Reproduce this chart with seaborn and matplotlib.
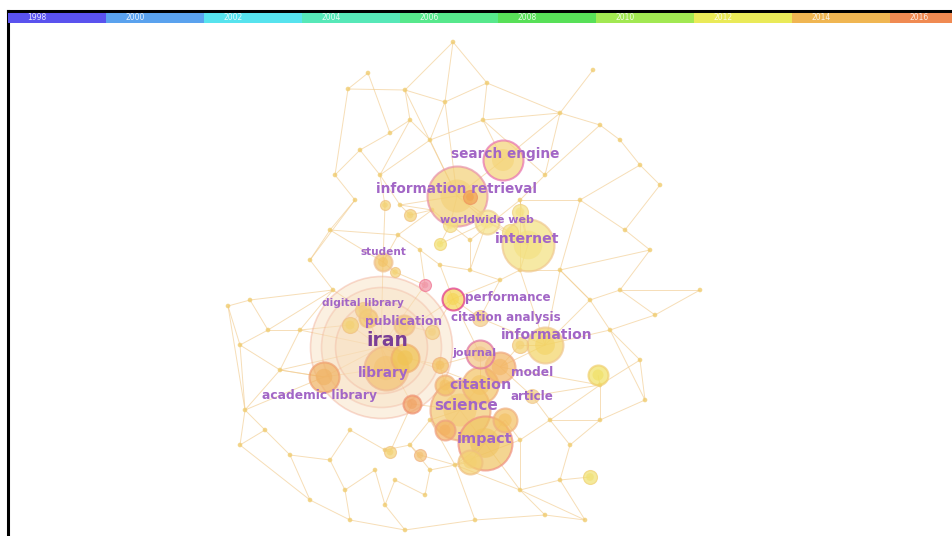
import numpy as np
import pandas as pd
import matplotlib
matplotlib.use("Agg")
import matplotlib.pyplot as plt
from matplotlib.collections import LineCollection
import seaborn as sns

# ---------------- data ----------------
years = ["1998", "2000", "2002", "2004", "2006", "2008", "2010", "2012", "2014", "2016"]
year_colors = ["#5a52ee", "#5aa2ee", "#57e3ee", "#57e8b8", "#57e88c",
               "#58e058", "#a2e852", "#eaea58", "#f0b652", "#f08a52"]

# background (unlabelled) nodes
bg_x = [453, 368, 348, 405, 487, 593, 560, 445, 483, 390, 410, 430, 360, 335, 380, 400, 355, 330, 310, 333,
        250, 228, 268, 300, 240, 280, 245, 265, 240, 290, 330, 345, 375, 310, 350, 385, 405, 425, 455, 430,
        475, 520, 545, 570, 560, 585, 600, 645, 640, 610, 655, 700, 620, 590, 650, 625, 660, 640, 620, 600,
        580, 560, 520, 500, 470, 440, 420, 398, 432, 520, 545, 470, 600, 550, 520, 430, 410, 385, 350, 395]
bg_y = [42, 73, 89, 90, 83, 70, 113, 102, 120, 133, 120, 140, 150, 175, 175, 205, 200, 230, 260, 290,
        300, 306, 330, 330, 345, 370, 410, 430, 445, 455, 460, 490, 470, 500, 520, 505, 530, 495, 465, 470,
        520, 490, 515, 445, 480, 520, 420, 400, 360, 330, 315, 290, 290, 300, 250, 230, 185, 165, 140, 125,
        200, 270, 270, 280, 270, 265, 250, 235, 210, 200, 175, 240, 385, 420, 440, 420, 445, 450, 430, 480]

# keyword nodes (named ones first, then unnamed cluster members)
kw_names = ["iran", "library", "search engine", "information retrieval", "worldwide web", "internet",
            "student", "performance", "digital library", "publication", "citation analysis", "information",
            "journal", "model", "citation", "academic library", "article", "science", "impact",
            "", "", "", "", "", "", "",
            "", "", "", "", "", "", "", "", "", "", "", "", "", "", "", "", ""]
kw_x = [381, 386, 503, 457, 487, 528, 383, 453, 363, 404, 480, 545, 480, 500, 480, 324, 532, 460, 485,
        412, 598, 590, 405, 425, 470, 440,
        350, 368, 432, 440, 445, 505, 470, 445, 520, 510, 450, 410, 385, 395, 420, 390, 520]
kw_y = [347, 368, 160, 196, 222, 245, 262, 299, 310, 325, 318, 345, 354, 367, 385, 377, 396, 410, 443,
        404, 375, 477, 358, 285, 197, 244,
        325, 318, 332, 365, 385, 420, 462, 430, 345, 232, 225, 215, 205, 272, 455, 452, 212]
kw_radius = [71, 22, 20, 30, 12, 26, 9, 11, 8, 10, 8, 18, 14, 15, 18, 15, 7, 30, 27,
             9, 10, 7, 14, 6, 7, 6,
             8, 9, 7, 8, 10, 12, 12, 10, 8, 8, 7, 6, 5, 5, 6, 6, 8]
kw_fill = ["#f7dcb8", "#f3c272", "#f5d476", "#f3d076", "#f6e288", "#f3e07e", "#f2c262", "#f5d452",
           "#f2cc7a", "#f3c878", "#f3cc80", "#f3d464", "#f3c484", "#f3b664", "#f3c464", "#f0b262",
           "#f3cc80", "#f3ca72", "#f0c462", "#f0a262", "#f0e062", "#f0e070", "#f0c452", "#f092a4",
           "#f0a050", "#f2e070",
           "#f3d070", "#f3c870", "#f3d080", "#f3c060", "#f3c060", "#f3c060", "#f3d070", "#f3b060",
           "#f3d070", "#f5e080", "#f5e080", "#f3d070", "#f3d070", "#f3d070", "#f3c070", "#f3d070",
           "#f5e080"]
kw_ring = ["#f0a890", "#f0b890", "#e870b0", "#e890a8", "#f0d090", "#f0c890", "#f0c090", "#e0308a",
           "#f0c090", "#f0c090", "#f0c090", "#f0c890", "#e070a0", "#f0a880", "#f0b080", "#f0a070",
           "#f0c890", "#f0a880", "#f09080", "#f09070", "#f0d070", "#f0d070", "#f0b070", "#f07090",
           "#f09060", "#f0d070",
           "#f0c080", "#f0c080", "#f0c080", "#f0b080", "#f0b080", "#f0b080", "#f0c080", "#f0a080",
           "#f0c080", "#f0d080", "#f0d080", "#f0c080", "#f0c080", "#f0c080", "#f0b080", "#f0c080",
           "#f0d080"]

# label text positions and sizes
lab_text = ["iran", "library", "search engine", "information retrieval", "worldwide web", "internet",
            "student", "performance", "digital library", "publication", "citation analysis", "information",
            "journal", "model", "citation", "academic library", "article", "science", "impact"]
lab_x = [387, 383, 505, 457, 487, 527, 383, 508, 363, 404, 506, 547, 474, 532, 480, 320, 532, 466, 485]
lab_y = [341, 373, 154, 189, 220, 239, 252, 297, 303, 322, 317, 335, 353, 373, 385, 395, 396, 406, 439]
lab_size = [13.5, 9.8, 9.8, 9.8, 8.0, 10.2, 7.6, 8.6, 7.7, 8.8, 8.6, 10.0, 8.0, 8.8, 10.4, 8.8, 8.6, 11.0, 10.4]

edges = [(0, 7), (0, 4), (0, 3), (1, 2), (1, 9), (2, 3), (2, 13), (3, 10), (3, 7), (4, 8), (4, 7), (5, 6),
         (6, 8), (6, 70), (7, 11), (8, 11), (9, 10), (9, 12), (10, 11), (12, 13), (12, 14), (13, 16),
         (14, 15), (14, 11), (15, 68), (16, 17), (17, 18), (17, 67), (18, 19), (19, 20), (19, 23), (20, 21),
         (20, 22), (21, 24), (22, 23), (22, 24), (23, 25), (24, 25), (24, 26), (25, 26), (26, 27), (26, 28),
         (27, 28), (27, 29), (28, 33), (29, 30), (29, 33), (30, 31), (30, 78), (31, 34), (31, 32), (32, 35),
         (33, 34), (34, 36), (35, 36), (35, 79), (36, 40), (37, 39), (37, 79), (38, 39), (38, 40), (38, 41),
         (40, 42), (41, 42), (41, 44), (42, 45), (43, 44), (43, 46), (44, 45), (46, 47), (46, 72), (47, 48),
         (48, 49), (48, 72), (49, 50), (49, 53), (50, 51), (51, 52), (52, 53), (52, 54), (53, 61), (54, 55),
         (55, 56), (55, 60), (56, 57), (57, 58), (58, 59), (59, 6), (59, 70), (60, 69), (60, 61), (61, 62),
         (62, 63), (63, 64), (64, 65), (65, 66), (66, 67), (67, 68), (68, 71), (69, 70), (69, 71), (71, 64),
         (73, 74), (73, 46), (74, 41), (74, 38), (75, 76), (76, 77), (77, 78), (76, 39), (75, 38), (43, 73),
         (72, 73), (62, 69), (57, 60), (50, 52), (45, 41), (21, 26),
         (80, 88), (80, 89), (80, 81), (80, 95), (80, 86), (80, 23), (80, 25), (80, 99), (80, 94), (80, 87),
         (80, 103), (81, 102), (81, 95), (83, 82), (83, 84), (83, 85), (83, 11), (83, 15), (84, 85), (85, 69),
         (85, 62), (86, 67), (86, 17), (87, 90), (87, 92), (87, 63), (90, 91), (91, 93), (92, 93), (92, 94),
         (93, 96), (94, 97), (97, 98), (97, 99), (98, 38), (98, 41), (96, 72), (91, 49), (100, 72), (101, 44),
         (82, 6), (82, 8), (83, 104), (84, 105), (97, 75), (88, 19), (95, 25), (95, 26),
         (80, 106), (80, 107), (106, 88), (107, 89), (108, 87), (108, 89), (109, 92), (109, 110), (110, 97),
         (111, 98), (111, 74), (112, 98), (113, 97), (113, 75), (114, 91), (114, 93), (115, 85), (115, 84),
         (116, 83), (116, 105), (117, 15), (117, 68), (118, 14), (118, 86), (119, 86), (119, 103), (120, 38),
         (120, 76), (121, 77), (121, 99), (122, 69), (122, 85), (102, 109), (110, 94), (112, 38), (3, 83),
         (7, 83), (10, 14), (16, 18), (19, 22), (23, 106), (25, 95), (66, 103), (65, 87), (64, 84), (63, 90),
         (62, 91), (61, 53), (61, 91), (53, 91), (72, 93), (73, 96), (47, 49), (54, 61), (8, 70), (4, 6)]

# ---------------- figure ----------------
sns.set_theme(style="white")
plt.rcParams["font.family"] = ["DejaVu Sans"]

W, H = 953, 536
fig = plt.figure(figsize=(W / 100, H / 100), dpi=100)
fig.patch.set_facecolor("white")

ax = fig.add_axes([8 / W, 0, (W - 8) / W, (H - 11) / H])
ax.set_xlim(8, W)
ax.set_ylim(H, 11)
ax.set_xticks([])
ax.set_yticks([])
for s in ["right", "bottom"]:
    ax.spines[s].set_visible(False)
for s in ["left", "top"]:
    ax.spines[s].set_color("black")
    ax.spines[s].set_linewidth(2.2)
ax.set_facecolor("white")

all_x = np.array(bg_x + kw_x, dtype=float)
all_y = np.array(bg_y + kw_y, dtype=float)

segs = [[(all_x[a], all_y[a]), (all_x[b], all_y[b])] for a, b in edges]
ax.add_collection(LineCollection(segs, colors="#f2cc90", linewidths=0.7, alpha=0.65, zorder=1))

bg = pd.DataFrame({"x": bg_x, "y": bg_y})
sns.scatterplot(data=bg, x="x", y="y", s=11, color="#f0cc70", edgecolor="none", alpha=0.8, ax=ax, zorder=2)


def px2s(r):
    return (2 * r * 0.72) ** 2


order = np.argsort(kw_radius)[::-1]
for i in order:
    r = kw_radius[i]
    if kw_names[i] == "iran":
        for rr, a in [(71, 0.42), (60, 0.32), (46, 0.32)]:
            ax.scatter(kw_x[i], kw_y[i], s=px2s(rr), facecolor=kw_fill[i], edgecolor=kw_ring[i],
                       linewidth=1.2, alpha=a, zorder=3)
    else:
        ax.scatter(kw_x[i], kw_y[i], s=px2s(r), facecolor=kw_fill[i], edgecolor=kw_ring[i],
                   linewidth=1.5 if r > 8 else 0.8, alpha=0.7, zorder=4)
        ax.scatter(kw_x[i], kw_y[i], s=px2s(r * 0.55), facecolor=kw_fill[i], edgecolor="none",
                   alpha=0.6, zorder=4)

for t, x, y, fs in zip(lab_text, lab_x, lab_y, lab_size):
    col = "#7a3e96" if t == "iran" else "#a266c6"
    ax.text(x, y, t, ha="center", va="center", fontsize=fs, fontweight="bold", color=col, zorder=6)

# ---------------- year colour bar ----------------
cb = fig.add_axes([8 / W, (H - 23) / H, (W - 8) / W, 10 / H])
yr = pd.DataFrame({"year": years, "pos": np.arange(len(years))})
cb.bar(yr["pos"], 1, width=1.0, align="edge", color=year_colors, edgecolor="none")
cb.set_xlim(0, (W - 8) / 98)
cb.set_ylim(0, 1)
cb.axis("off")
for p, yv in zip(yr["pos"], yr["year"]):
    cb.text(p + 0.2, 0.5, yv, ha="left", va="center", fontsize=5.5, color="white", alpha=0.85)

fig.savefig("out.png", dpi=100)
